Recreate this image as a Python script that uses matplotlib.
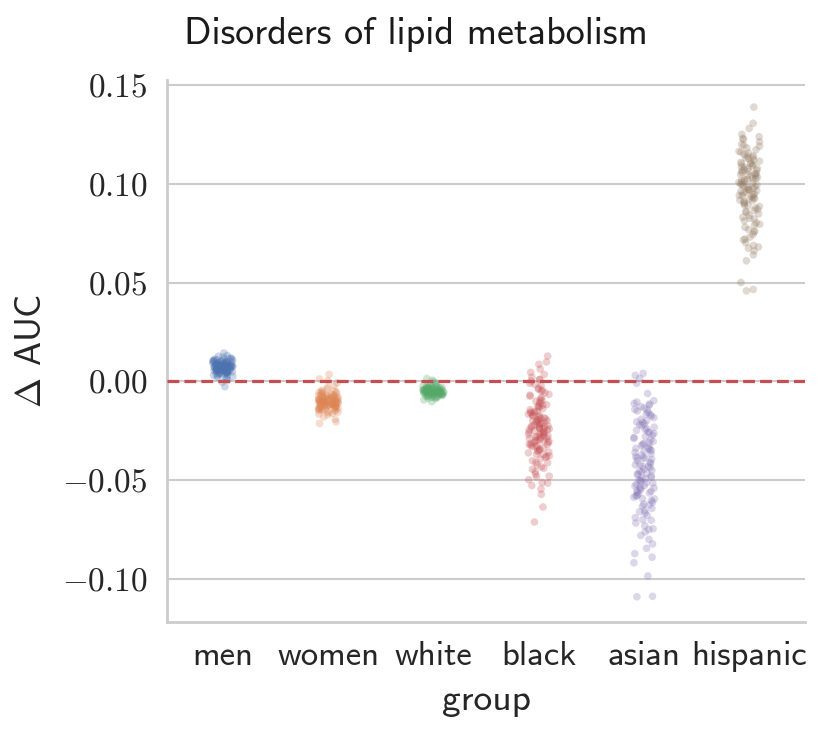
import matplotlib
matplotlib.use("Agg")
import matplotlib.pyplot as plt
import numpy as np
import pandas as pd
import seaborn as sns
from matplotlib.ticker import FuncFormatter, FixedLocator

groups = ["men", "women", "white", "black", "asian", "hispanic"]

men = [0.0143, 0.0131, 0.0127, 0.0122, 0.0118, 0.0114, 0.0112, 0.0109, 0.0106, 0.0104,
       0.0102, 0.0101, 0.0098, 0.0096, 0.0095, 0.0093, 0.0091, 0.0090, 0.0088, 0.0087,
       0.0086, 0.0084, 0.0083, 0.0082, 0.0081, 0.0080, 0.0079, 0.0078, 0.0077, 0.0076,
       0.0075, 0.0074, 0.0073, 0.0072, 0.0072, 0.0071, 0.0070, 0.0069, 0.0068, 0.0067,
       0.0066, 0.0066, 0.0065, 0.0064, 0.0063, 0.0062, 0.0061, 0.0060, 0.0059, 0.0058,
       0.0057, 0.0056, 0.0055, 0.0054, 0.0053, 0.0052, 0.0050, 0.0049, 0.0047, 0.0046,
       0.0044, 0.0042, 0.0040, 0.0038, 0.0036, 0.0034, 0.0031, 0.0028, 0.0025, 0.0021,
       0.0017, 0.0012, 0.0006, -0.0004, -0.0027,
       0.0105, 0.0097, 0.0089, 0.0081, 0.0074, 0.0068, 0.0061, 0.0055, 0.0048, 0.0041,
       0.0110, 0.0100, 0.0092, 0.0085, 0.0078, 0.0071, 0.0064, 0.0057, 0.0050, 0.0043,
       0.0099, 0.0087, 0.0076, 0.0063, 0.0052, 0.0039, 0.0033, 0.0115, 0.0108, 0.0080]

women = [0.0035, 0.0012, 0.0003, -0.0008, -0.0021, -0.0030, -0.0038, -0.0045, -0.0051, -0.0056,
         -0.0060, -0.0064, -0.0067, -0.0070, -0.0073, -0.0076, -0.0078, -0.0080, -0.0082, -0.0084,
         -0.0086, -0.0088, -0.0090, -0.0092, -0.0093, -0.0095, -0.0096, -0.0098, -0.0099, -0.0100,
         -0.0102, -0.0103, -0.0104, -0.0106, -0.0107, -0.0108, -0.0110, -0.0111, -0.0112, -0.0114,
         -0.0115, -0.0117, -0.0118, -0.0120, -0.0122, -0.0124, -0.0126, -0.0128, -0.0130, -0.0132,
         -0.0135, -0.0137, -0.0140, -0.0143, -0.0147, -0.0151, -0.0156, -0.0162, -0.0170, -0.0180,
         -0.0192, -0.0205, -0.0213,
         -0.0058, -0.0074, -0.0087, -0.0097, -0.0105, -0.0113, -0.0121, -0.0131, -0.0144, -0.0159,
         -0.0048, -0.0062, -0.0079, -0.0091, -0.0101, -0.0109, -0.0116, -0.0125, -0.0136, -0.0149,
         -0.0068, -0.0083, -0.0094, -0.0103, -0.0110, -0.0119, -0.0127, -0.0139, -0.0153, -0.0166,
         -0.0053, -0.0071, -0.0089, -0.0106, -0.0123, -0.0141]

white = [0.0014, 0.0006, -0.0001, -0.0008, -0.0013, -0.0018, -0.0022, -0.0026, -0.0029, -0.0032,
         -0.0035, -0.0037, -0.0039, -0.0041, -0.0043, -0.0045, -0.0046, -0.0048, -0.0049, -0.0051,
         -0.0052, -0.0053, -0.0055, -0.0056, -0.0057, -0.0059, -0.0060, -0.0062, -0.0063, -0.0065,
         -0.0067, -0.0069, -0.0071, -0.0073, -0.0076, -0.0079, -0.0083, -0.0088, -0.0094, -0.0103,
         -0.0024, -0.0031, -0.0038, -0.0044, -0.0050, -0.0054, -0.0058, -0.0064, -0.0070, -0.0078,
         -0.0034, -0.0042, -0.0047, -0.0052, -0.0061, -0.0066,
         -0.0027, -0.0036, -0.0040, -0.0045, -0.0049, -0.0053, -0.0057, -0.0061, -0.0068, -0.0074,
         -0.0020, -0.0030, -0.0039, -0.0046, -0.0051, -0.0055, -0.0059, -0.0063, -0.0072, -0.0081,
         -0.0033, -0.0043, -0.0050, -0.0056, -0.0065, -0.0086]

black = [0.0128, 0.0098, 0.0086, 0.0062, 0.0045, 0.0035, 0.0021, 0.0008, 0.0002, -0.0010,
         -0.0022, -0.0035, -0.0046, -0.0058, -0.0066, -0.0075, -0.0082, -0.0090, -0.0097, -0.0105,
         -0.0112, -0.0118, -0.0125, -0.0131, -0.0138, -0.0144, -0.0150, -0.0156, -0.0161, -0.0166,
         -0.0171, -0.0176, -0.0181, -0.0186, -0.0190, -0.0195, -0.0199, -0.0204, -0.0208, -0.0212,
         -0.0217, -0.0221, -0.0225, -0.0229, -0.0233, -0.0237, -0.0241, -0.0245, -0.0249, -0.0253,
         -0.0257, -0.0261, -0.0265, -0.0269, -0.0273, -0.0277, -0.0282, -0.0286, -0.0290, -0.0295,
         -0.0299, -0.0304, -0.0309, -0.0314, -0.0319, -0.0324, -0.0330, -0.0336, -0.0342, -0.0348,
         -0.0355, -0.0362, -0.0369, -0.0377, -0.0385, -0.0393, -0.0402, -0.0412, -0.0422, -0.0433,
         -0.0445, -0.0457, -0.0470, -0.0484, -0.0498, -0.0512, -0.0527, -0.0545, -0.0572, -0.0636,
         -0.0712,
         -0.0160, -0.0185, -0.0205, -0.0227, -0.0246, -0.0268, -0.0288, -0.0310, -0.0333, -0.0358,
         -0.0195, -0.0240, -0.0280, -0.0320, -0.0370, -0.0040, -0.0070, -0.0100, -0.0128, -0.0153,
         -0.0172, -0.0198, -0.0219, -0.0238, -0.0259, -0.0279, -0.0301, -0.0327, -0.0350, -0.0380,
         -0.0410, -0.0440, -0.0480, -0.0515, 0.0010, -0.0015, -0.0050, -0.0120, -0.0230, -0.0300]

asian = [0.0040, 0.0030, 0.0015, -0.0010, -0.0062, -0.0098, -0.0105, -0.0112, -0.0120, -0.0128,
         -0.0135, -0.0142, -0.0150, -0.0158, -0.0166, -0.0175, -0.0184, -0.0192, -0.0200, -0.0208,
         -0.0216, -0.0224, -0.0232, -0.0240, -0.0248, -0.0256, -0.0264, -0.0272, -0.0280, -0.0288,
         -0.0296, -0.0304, -0.0311, -0.0318, -0.0325, -0.0332, -0.0339, -0.0346, -0.0353, -0.0360,
         -0.0367, -0.0374, -0.0381, -0.0388, -0.0395, -0.0402, -0.0409, -0.0416, -0.0423, -0.0430,
         -0.0437, -0.0444, -0.0451, -0.0458, -0.0465, -0.0472, -0.0479, -0.0486, -0.0493, -0.0500,
         -0.0507, -0.0514, -0.0521, -0.0528, -0.0535, -0.0542, -0.0549, -0.0556, -0.0563, -0.0570,
         -0.0578, -0.0586, -0.0594, -0.0603, -0.0612, -0.0622, -0.0632, -0.0643, -0.0654, -0.0666,
         -0.0678, -0.0690, -0.0703, -0.0717, -0.0731, -0.0746, -0.0762, -0.0780, -0.0800, -0.0823,
         -0.0845, -0.0872, -0.0890, -0.0918, -0.0985, -0.1088, -0.1090,
         -0.0390, -0.0430, -0.0470, -0.0500, -0.0530, -0.0555, -0.0580, -0.0220, -0.0260, -0.0340,
         -0.0115, -0.0145, -0.0170, -0.0205, -0.0245, -0.0285, -0.0315, -0.0350, -0.0385, -0.0420,
         -0.0455, -0.0490, -0.0515, -0.0540, -0.0565, -0.0595, -0.0625, -0.0660, -0.0700, -0.0750]

hispanic = [0.1388, 0.1306, 0.1280, 0.1250, 0.1238, 0.1225, 0.1212, 0.1200, 0.1190, 0.1181,
            0.1172, 0.1164, 0.1156, 0.1148, 0.1141, 0.1134, 0.1127, 0.1120, 0.1114, 0.1108,
            0.1102, 0.1096, 0.1090, 0.1084, 0.1078, 0.1072, 0.1067, 0.1062, 0.1057, 0.1052,
            0.1047, 0.1042, 0.1037, 0.1032, 0.1027, 0.1022, 0.1017, 0.1012, 0.1007, 0.1002,
            0.0997, 0.0992, 0.0987, 0.0982, 0.0977, 0.0972, 0.0967, 0.0962, 0.0957, 0.0952,
            0.0947, 0.0941, 0.0935, 0.0929, 0.0923, 0.0917, 0.0911, 0.0905, 0.0899, 0.0892,
            0.0885, 0.0878, 0.0871, 0.0864, 0.0856, 0.0848, 0.0840, 0.0831, 0.0822, 0.0812,
            0.0802, 0.0791, 0.0780, 0.0768, 0.0756, 0.0743, 0.0730, 0.0716, 0.0702, 0.0688,
            0.0674, 0.0660, 0.0640, 0.0610, 0.0500, 0.0465, 0.0458,
            0.1105, 0.1085, 0.1065, 0.1045, 0.1025, 0.1005, 0.0985, 0.0965, 0.0945, 0.0925,
            0.1195, 0.1160, 0.1130, 0.1100, 0.1075, 0.1050, 0.1020, 0.0995, 0.0970, 0.0940,
            0.0915, 0.0890, 0.0860, 0.0825, 0.0795, 0.0760, 0.0720, 0.0680, 0.1230, 0.1140]

yticks = [-0.10, -0.05, 0.00, 0.05, 0.10, 0.15]

values = {"men": men, "women": women, "white": white,
          "black": black, "asian": asian, "hispanic": hispanic}
df = pd.DataFrame([(g, v) for g in groups for v in values[g]], columns=["group", "delta"])

sns.set_theme(style="whitegrid", palette="deep")
plt.rcParams["mathtext.fontset"] = "cm"
plt.rcParams["font.family"] = ["cmss10", "DejaVu Sans"]
plt.rcParams["axes.formatter.use_mathtext"] = True

np.random.seed(3)

fig = plt.figure(figsize=(8.31, 7.34), dpi=100)
ax = fig.add_axes([0.201, 0.1526, 0.768, 0.7384])

sns.stripplot(data=df, x="group", y="delta", hue="group", order=groups,
              palette="deep", size=5.5, alpha=0.28, linewidth=0, jitter=True,
              legend=False, ax=ax)

ax.axhline(0, color=sns.color_palette("deep")[3], linestyle="--", linewidth=2.3, zorder=3)

ax.set_xlim(-0.53, 5.53)
ax.set_ylim(-0.1218, 0.1525)
ax.yaxis.set_major_locator(FixedLocator(yticks))
ax.yaxis.set_major_formatter(FuncFormatter(lambda v, p: f"${v:.2f}$"))
ax.tick_params(axis="y", labelsize=24, pad=8)
ax.tick_params(axis="x", labelsize=25, pad=8)
ax.grid(axis="x", visible=False)
ax.grid(axis="y", color="#cccccc", linewidth=1.5)
for side in ["top", "right"]:
    ax.spines[side].set_visible(False)
for side in ["left", "bottom"]:
    ax.spines[side].set_color("#cccccc")
    ax.spines[side].set_linewidth(2)

ax.set_xlabel("group", fontsize=27, labelpad=8)
ax.set_ylabel(r"$\Delta$ AUC", fontsize=26, labelpad=10)
fig.suptitle("Disorders of lipid metabolism", x=0.5, y=0.977, fontsize=27.5, color="#1a1a1a")

fig.savefig("out.png", dpi=100)
